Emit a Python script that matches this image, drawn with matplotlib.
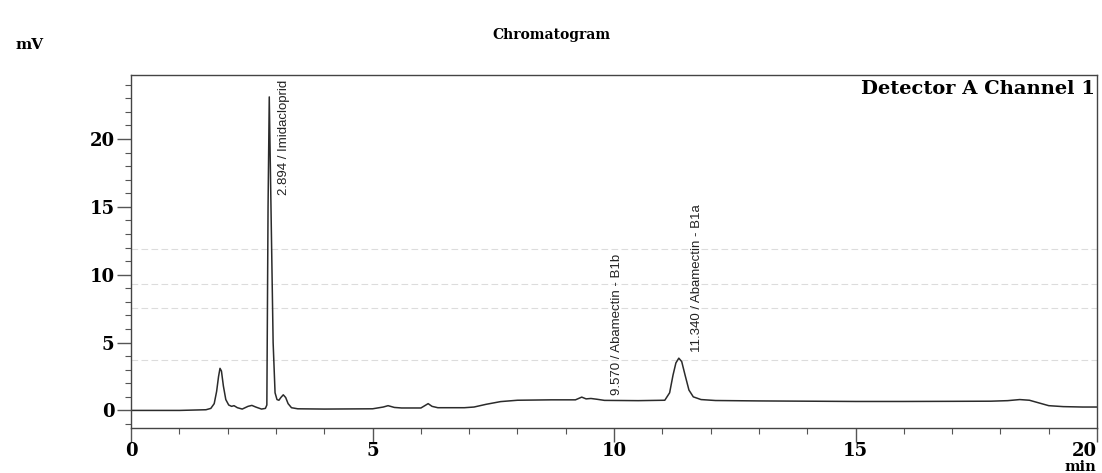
import matplotlib.pyplot as plt
from matplotlib.ticker import MultipleLocator

# trace points (time in min, signal in mV)
time_min = [0.0, 1.0, 1.55, 1.65, 1.72, 1.77, 1.81, 1.84, 1.87, 1.91, 1.96, 2.02, 2.08,
            2.13, 2.2, 2.3, 2.42, 2.5, 2.58, 2.7, 2.78, 2.81, 2.835, 2.86, 2.9, 2.94,
            2.98, 3.02, 3.06, 3.1, 3.15, 3.2, 3.25, 3.32, 3.45, 4.0, 5.0, 5.22, 5.32,
            5.45, 5.6, 6.0, 6.08, 6.15, 6.23, 6.35, 6.9, 7.1, 7.35, 7.65, 8.0, 8.7,
            9.2, 9.33, 9.42, 9.52, 9.65, 9.8, 10.5, 11.05, 11.15, 11.22, 11.28, 11.34,
            11.4, 11.47, 11.55, 11.64, 11.8, 12.1, 13.0, 14.0, 15.0, 16.0, 17.0, 17.8,
            18.15, 18.4, 18.6, 18.8, 19.0, 19.3, 19.7, 20.0]
signal_mv = [0.0, 0.0, 0.05, 0.15, 0.5, 1.4, 2.5, 3.1, 2.9, 1.8, 0.8, 0.4, 0.3,
             0.35, 0.2, 0.1, 0.3, 0.37, 0.25, 0.1, 0.15, 0.4, 15.0, 23.1, 14.0, 5.0,
             1.3, 0.8, 0.75, 0.95, 1.15, 0.95, 0.5, 0.2, 0.12, 0.1, 0.12, 0.25, 0.35,
             0.22, 0.18, 0.18, 0.35, 0.5, 0.3, 0.2, 0.2, 0.25, 0.45, 0.65, 0.75, 0.78,
             0.78, 0.98, 0.85, 0.88, 0.82, 0.74, 0.72, 0.75, 1.3, 2.6, 3.5, 3.85,
             3.6, 2.6, 1.5, 1.0, 0.8, 0.73, 0.7, 0.68, 0.66, 0.66, 0.67, 0.68,
             0.72, 0.8, 0.75, 0.55, 0.35, 0.28, 0.25, 0.25]

peak_times = [2.894, 9.570, 11.340]
peak_labels = ['2.894 / Imidacloprid', '9.570 / Abamectin - B1b', '11.340 / Abamectin - B1a']

x_ticks = [0, 5, 10, 15, 20]
y_ticks = [0, 5, 10, 15, 20]

# faint horizontal scan streaks in the original (mV)
streaks = [11.9, 9.3, 7.55, 3.74]

serif = ['DejaVu Serif']
narrow = ['Liberation Sans Narrow', 'Liberation Sans', 'DejaVu Sans']

fig = plt.figure(figsize=(11.02, 4.73), dpi=100)
ax = fig.add_axes([0.119, 0.095, 0.8765, 0.746])

for s in streaks:
    ax.axhline(s, color='#dcdcdc', lw=0.8, ls=(0, (6, 3)), zorder=0)

ax.plot(time_min, signal_mv, color='#2b2b2b', lw=1.1)

ax.set_xlim(0, 20)
ax.set_ylim(-1.3, 24.7)

ax.set_xticks(x_ticks)
ax.set_yticks(y_ticks)
ax.xaxis.set_minor_locator(MultipleLocator(1))
ax.yaxis.set_minor_locator(MultipleLocator(1))
ax.tick_params(which='major', length=10, width=1, color='#555555', pad=2)
ax.tick_params(axis='x', which='major', pad=0)
ax.tick_params(which='minor', length=4, width=0.8, color='#555555')
for lab in ax.get_xticklabels() + ax.get_yticklabels():
    lab.set_family(serif)
    lab.set_fontweight('bold')
    lab.set_fontsize(13)
ax.get_xticklabels()[-1].set_horizontalalignment('right')

for sp in ax.spines.values():
    sp.set_color('#444444')
    sp.set_linewidth(1.0)

# peak labels, rotated as in the instrument printout
ax.text(peak_times[0] + 0.28, 24.4, peak_labels[0], rotation=90, ha='center', va='top',
        fontsize=9.5, family=narrow, color='#222222')
ax.text(peak_times[1] + 0.5, 1.15, peak_labels[1], rotation=90, ha='center', va='bottom',
        fontsize=9.5, family=narrow, color='#222222')
ax.text(peak_times[2] + 0.37, 4.3, peak_labels[2], rotation=90, ha='center', va='bottom',
        fontsize=9.5, family=narrow, color='#222222')

ax.text(0.998, 0.985, 'Detector A Channel 1', transform=ax.transAxes, ha='right', va='top',
        fontsize=14, fontweight='bold', family=serif)

fig.text(0.5, 0.925, 'Chromatogram', ha='center', va='center', fontsize=10,
         fontweight='bold', family=serif)
fig.text(0.027, 0.905, 'mV', ha='center', va='center', fontsize=11,
         fontweight='bold', family=serif)
fig.text(0.98, 0.012, 'min', ha='center', va='center', fontsize=10.5,
         fontweight='bold', family=serif)

fig.savefig('out.png', dpi=100)
